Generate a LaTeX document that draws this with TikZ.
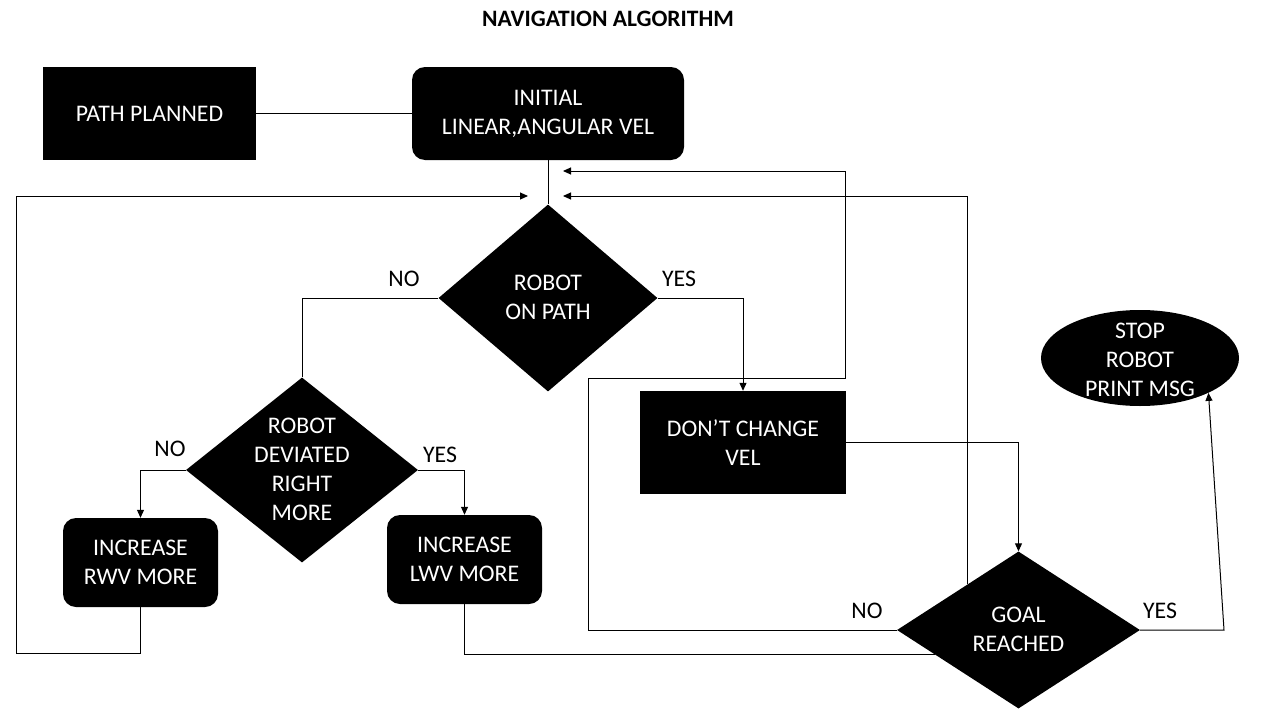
\documentclass[tikz,border=0pt]{standalone}
\usepackage{fontspec}
\setmainfont{Carlito}
\usetikzlibrary{shapes.geometric,arrows.meta,calc}
\begin{document}
\begin{tikzpicture}[x=1pt,y=-1pt,
  every node/.style={font=\fontsize{23.8}{29}\selectfont},
  blk/.style={fill=black,draw=none,inner sep=0pt,text=white,align=center},
  boxr/.style={blk,rectangle,rounded corners=13pt},
  boxs/.style={blk,rectangle},
  dia/.style={fill=black,draw=none,diamond,inner sep=0pt},
  oval/.style={fill=black,draw=none,ellipse,inner sep=0pt},
  txt/.style={text=white,align=center,inner sep=0pt},
  lab/.style={text=black,inner sep=0pt},
  conn/.style={draw=black,line width=1pt},
  arr/.style={conn,-{Triangle[length=8pt,width=7pt]}}]
\useasboundingbox (0,0) rectangle (1280,720);
\node[font=\fontsize{23.5}{28}\selectfont\bfseries] (title) at (608,19) {NAVIGATION ALGORITHM};
% nodes
\node[boxs,minimum width=213pt,minimum height=93pt] (PP) at (149.5,113.5) {PATH PLANNED};
\node[boxr,minimum width=272pt,minimum height=93pt] (INIT) at (548,113.5) {INITIAL\\LINEAR,ANGULAR VEL};
\node[dia,minimum width=219pt,minimum height=187pt] (ROP) at (548,298) {};
\node[txt] (ROPt) at (548,297.5) {ROBOT\\ON PATH};
\node[dia,minimum width=232pt,minimum height=185pt] (DEV) at (302,470) {};
\node[txt] (DEVt) at (302,469.5) {ROBOT\\DEVIATED\\RIGHT\\MORE};
\node[boxr,minimum width=155pt,minimum height=89pt] (RWV) at (140.5,562.5) {INCREASE\\RWV MORE};
\node[boxr,minimum width=155pt,minimum height=89pt] (LWV) at (464.5,559.5) {INCREASE\\LWV MORE};
\node[boxs,minimum width=206pt,minimum height=103pt] (DCV) at (743,442.5) {DON’T CHANGE\\VEL};
\node[dia,minimum width=243pt,minimum height=157pt] (GOAL) at (1018.5,630) {};
\node[txt] (GOALt) at (1018.5,629.5) {GOAL\\REACHED};
\node[oval,minimum width=198pt,minimum height=96pt] (STOP) at (1140,358) {};
\node[txt] (STOPt) at (1140,360) {STOP\\ROBOT\\PRINT MSG};
% labels
\node[lab] (l1) at (404,279) {NO};
\node[lab] (l2) at (679,279) {YES};
\node[lab] (l3) at (170,449) {NO};
\node[lab] (l4) at (440,455) {YES};
\node[lab] (l5) at (867,611) {NO};
\node[lab] (l6) at (1160,611) {YES};
% coordinates
\coordinate (inL) at (528,196);
\coordinate (inR1) at (563,171);
\coordinate (inR2) at (563,196);
\coordinate (lwvin) at ($(GOAL.west)!0.31!(GOAL.south)$);
\coordinate (upout) at ($(GOAL.west)!0.582!(GOAL.north)$);
% connectors
\draw[conn] (PP) -- (INIT);
\draw[conn] (INIT.south) -- (ROP.north);
\draw[conn] (ROP.west) -| (DEV.north);
\draw[arr] (DEV.west) -| (RWV.north);
\draw[arr] (DEV.east) -| (LWV.north);
\draw[arr] (ROP.east) -| (DCV.north);
\draw[arr] (DCV.east) -| (GOAL.north);
\draw[arr] (RWV.south) |- (16,653) |- (inL);
\draw[conn] (LWV.south) |- (lwvin);
\draw[arr] (GOAL.west) -| (588,378) -| (845,171) -- (inR1);
\draw[arr] (upout) |- (inR2);
\draw[arr] (GOAL.east) -- (1224,630) -- (STOP.-27);
\end{tikzpicture}
\end{document}
